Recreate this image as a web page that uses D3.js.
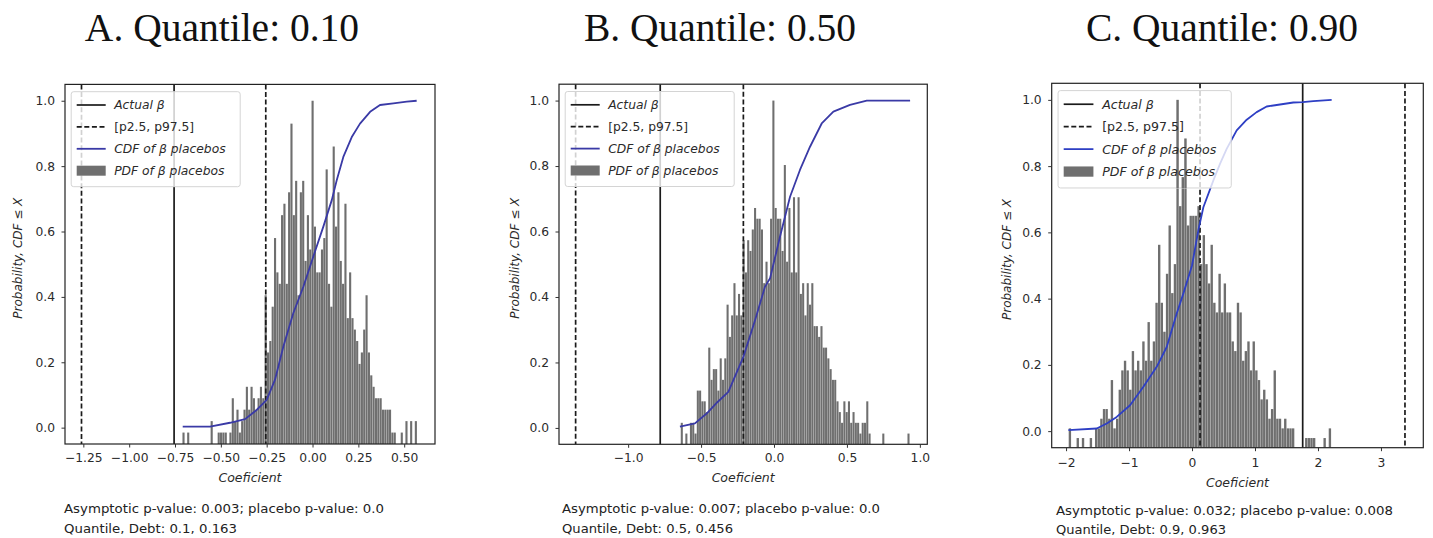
<!DOCTYPE html>
<html>
<head>
<meta charset="utf-8">
<script src="https://cdn.jsdelivr.net/npm/d3@7"></script>
<style>
  body { margin: 0; background: #fff; }
  svg { display: block; }
</style>
</head>
<body>
<svg id="fig" width="1433" height="538"></svg>
<script>
// ---- data ----------------------------------------------------------------
const panelTitles = ["A. Quantile: 0.10", "B. Quantile: 0.50", "C. Quantile: 0.90"];
const pvalueLines = [
  "Asymptotic p-value: 0.003; placebo p-value: 0.0",
  "Asymptotic p-value: 0.007; placebo p-value: 0.0",
  "Asymptotic p-value: 0.032; placebo p-value: 0.008"
];
const debtLines = [
  "Quantile, Debt: 0.1, 0.163",
  "Quantile, Debt: 0.5, 0.456",
  "Quantile, Debt: 0.9, 0.963"
];
const legendLabels = ["Actual β", "[p2.5, p97.5]", "CDF of β placebos", "PDF of β placebos"];
const xAxisLabel = "Coeficient";
const yAxisLabel = "Probability, CDF ≤ X";

// actual coefficient and placebo percentile band
const actualBeta = [-0.755, -0.78, 1.757];
const bandLow    = [-1.26, -1.36, 0.127];
const bandHigh   = [-0.255, -0.21, 3.381];

// tick values
const xTicksA = [-1.25, -1.0, -0.75, -0.5, -0.25, 0, 0.25, 0.5];
const xTicksB = [-1.0, -0.5, 0, 0.5, 1.0];
const xTicksC = [-2, -1, 0, 1, 2, 3];
const yTicks  = [0, 0.2, 0.4, 0.6, 0.8, 1.0];

// placebo histograms: [min, max] of placebo betas, 100 equal bins, counts
const histRangeA = [-0.71, 0.57];
const countsA = [
  1,0,1,0,0,0,0,0,0,0,
  0,0,2,0,0,1,1,1,1,0,
  1,4,2,3,1,2,3,5,3,5,
  4,3,4,5,4,13,8,9,12,18,
  15,14,20,21,14,22,28,20,23,13,
  22,23,16,20,17,30,19,15,15,17,
  18,24,14,12,26,19,22,16,14,21,
  11,15,11,10,9,7,8,10,13,8,
  6,5,4,4,4,3,3,3,3,1,
  1,0,0,1,0,2,0,2,0,2
];
const histRangeB = [-0.64, 0.93];
const countsB = [
  2,0,1,0,2,2,1,5,5,4,
  4,3,9,6,7,7,5,8,6,8,
  13,10,12,15,12,14,12,19,16,19,
  18,20,22,21,21,20,15,17,15,21,
  32,22,21,21,18,26,17,22,16,23,
  16,23,14,15,12,15,13,15,11,11,
  10,11,9,9,8,7,6,6,4,3,
  2,4,3,4,2,3,2,2,1,2,
  2,4,1,0,0,0,0,0,1,0,
  0,0,0,0,0,0,0,0,0,1
];
const histRangeC = [-1.96, 2.21];
const countsC = [
  2,0,0,1,0,1,0,0,1,0,
  2,2,3,4,4,3,7,2,3,6,
  8,9,8,6,10,8,9,8,11,9,
  13,9,11,15,21,15,12,18,23,16,
  19,36,25,28,32,23,24,24,24,25,
  19,22,19,17,21,15,14,18,14,17,
  14,14,11,10,15,14,9,10,11,8,
  11,8,7,5,6,5,3,4,8,3,
  3,2,3,2,2,2,0,0,0,0,
  1,1,1,1,0,0,0,1,0,2
];

// empirical CDF of placebo betas
const cdfXA = [-0.708,-0.559,-0.45,-0.368,-0.305,-0.25,-0.205,-0.159,-0.105,-0.05,0.004,0.059,0.105,0.132,0.168,0.214,0.259,0.314,0.368,0.441,0.514,0.568];
const cdfYA = [0.003,0.003,0.015,0.026,0.054,0.085,0.146,0.248,0.35,0.431,0.523,0.615,0.696,0.757,0.828,0.889,0.93,0.966,0.987,0.992,0.997,1.0];
const cdfXB = [-0.645,-0.542,-0.462,-0.385,-0.313,-0.21,-0.13,-0.062,-0.027,0.041,0.11,0.178,0.247,0.327,0.407,0.521,0.636,0.933];
const cdfYB = [0.004,0.014,0.044,0.08,0.11,0.217,0.329,0.431,0.457,0.584,0.706,0.788,0.859,0.93,0.966,0.987,1.0,1.0];
const cdfXC = [-1.963,-1.513,-1.354,-1.196,-0.984,-0.772,-0.561,-0.402,-0.243,-0.138,0.0,0.1,0.18,0.339,0.444,0.55,0.709,0.868,1.026,1.185,1.397,1.608,1.757,1.926,2.217];
const cdfYC = [0.003,0.008,0.023,0.043,0.078,0.134,0.194,0.254,0.355,0.415,0.5,0.606,0.676,0.757,0.807,0.852,0.908,0.94,0.963,0.98,0.986,0.992,0.993,0.996,1.0];

// ---- layout --------------------------------------------------------------
const panels = [
  { xTicks: xTicksA, fmt: d3.format(".2f"), hist: histRangeA, counts: countsA, cdfX: cdfXA, cdfY: cdfYA,
    box: { left: 65, right: 435, top: 84.4, bottom: 444 }, xlim: [-1.35, 0.668],
    titleX: 222, textX: 64, textY: [508, 528], textW: [320, 173],
    tickY: 462, xLabelY: 482, yLabelX: 18, cdfColor: "#3a3aa6", legendScale: 1.0 },
  { xTicks: xTicksB, fmt: d3.format(".1f"), hist: histRangeB, counts: countsB, cdfX: cdfXB, cdfY: cdfYB,
    box: { left: 559, right: 927.3, top: 84.2, bottom: 444.3 }, xlim: [-1.474, 1.051],
    titleX: 720, textX: 562, textY: [508, 528], textW: [318, 171],
    tickY: 462, xLabelY: 482, yLabelX: 515, cdfColor: "#3a3aa6", legendScale: 1.0 },
  { xTicks: xTicksC, fmt: d3.format("d"), hist: histRangeC, counts: countsC, cdfX: cdfXC, cdfY: cdfYC,
    box: { left: 1051.7, right: 1423.3, top: 83.3, bottom: 447.7 }, xlim: [-2.228, 3.672],
    titleX: 1222, textX: 1056, textY: [510, 529.5], textW: [337, 170],
    tickY: 467, xLabelY: 487, yLabelX: 1007, cdfColor: "#2e3fc4", legendScale: 1.025 }
];

const svg = d3.select("#fig");
const FONT = "'DejaVu Sans', sans-serif";
const YFLOOR = -0.05;
const BAR_FILL = "#6f6f6f";

panels.forEach((p, k) => {
  const b = p.box;
  const x = d3.scaleLinear().domain(p.xlim).range([b.left, b.right]);
  const y = d3.scaleLinear().domain([YFLOOR, 1.05]).range([b.bottom, b.top]);
  const g = svg.append("g");

  const clipId = "clip" + k;
  svg.append("clipPath").attr("id", clipId)
    .append("rect").attr("x", b.left).attr("y", b.top)
    .attr("width", b.right - b.left).attr("height", b.bottom - b.top);

  // histogram bins
  const n = p.counts.length;
  const w = (p.hist[1] - p.hist[0]) / n;
  const maxC = d3.max(p.counts);
  const bins = p.counts.map((c, i) => ({ x0: p.hist[0] + i * w, x1: p.hist[0] + (i + 1) * w, c }))
    .filter(d => d.c > 0);
  const barTop = d => y(YFLOOR + (1.05) * d.c / maxC);
  const drawBars = (sel) => sel.selectAll("rect.bar").data(bins).join("rect")
      .attr("class", "bar")
      .attr("x", d => x(d.x0) + (x(d.x1) - x(d.x0)) * 0.05)
      .attr("width", d => (x(d.x1) - x(d.x0)) * 0.9)
      .attr("y", barTop)
      .attr("height", d => y(YFLOOR) - barTop(d))
      .attr("fill", BAR_FILL);

  const plot = g.append("g").attr("clip-path", `url(#${clipId})`);
  drawBars(plot.append("g"));

  // reference lines
  const vline = (v, dash) => plot.append("line")
    .attr("x1", x(v)).attr("x2", x(v)).attr("y1", b.top).attr("y2", b.bottom)
    .attr("stroke", "#1a1a1a").attr("stroke-width", 1.7)
    .attr("stroke-dasharray", dash ? "5,2.6" : null);
  vline(actualBeta[k], false);
  vline(bandLow[k], true);
  vline(bandHigh[k], true);

  // CDF
  const cdf = p.cdfX.map((v, i) => [v, p.cdfY[i]]);
  plot.append("path").datum(cdf)
    .attr("d", d3.line().x(d => x(d[0])).y(d => y(d[1])))
    .attr("fill", "none").attr("stroke", p.cdfColor).attr("stroke-width", 1.8)
    .attr("stroke-linejoin", "round");

  // legend
  const s = p.legendScale;
  const lx = b.left + 6.2 * s, ly = b.top + 7.3;
  const lw = 169 * s, lh = 95 * s;
  const lg = g.append("g");
  lg.append("rect").attr("x", lx).attr("y", ly).attr("width", lw).attr("height", lh)
    .attr("rx", 2.5).attr("fill", "#fff").attr("fill-opacity", 0.8)
    .attr("stroke", "#d4d4d4").attr("stroke-width", 1);
  // bars stay visible on top of the legend frame
  const lclip = "lclip" + k;
  svg.append("clipPath").attr("id", lclip)
    .append("rect").attr("x", lx).attr("y", ly).attr("width", lw).attr("height", lh);
  drawBars(lg.append("g").attr("clip-path", `url(#${lclip})`));

  const rowY = i => ly + (13.3 + i * 21.9) * s;
  const hx0 = lx + 5.5 * s, hx1 = lx + 34.5 * s, tx = lx + 43 * s;
  lg.append("line").attr("x1", hx0).attr("x2", hx1).attr("y1", rowY(0)).attr("y2", rowY(0))
    .attr("stroke", "#1a1a1a").attr("stroke-width", 1.7);
  lg.append("line").attr("x1", hx0).attr("x2", hx1).attr("y1", rowY(1)).attr("y2", rowY(1))
    .attr("stroke", "#1a1a1a").attr("stroke-width", 1.7).attr("stroke-dasharray", "5,2.6");
  lg.append("line").attr("x1", hx0).attr("x2", hx1).attr("y1", rowY(2)).attr("y2", rowY(2))
    .attr("stroke", p.cdfColor).attr("stroke-width", 1.8);
  lg.append("rect").attr("x", hx0).attr("y", rowY(3) - 5 * s).attr("width", hx1 - hx0).attr("height", 10 * s)
    .attr("fill", BAR_FILL);
  legendLabels.forEach((t, i) => {
    lg.append("text").attr("x", tx).attr("y", rowY(i)).attr("dy", "0.36em")
      .attr("font-family", FONT).attr("font-size", 12.3 * s)
      .attr("font-style", i === 1 ? "normal" : "italic")
      .attr("fill", "#2a2a2a").text(t);
  });

  // frame
  g.append("rect").attr("x", b.left).attr("y", b.top)
    .attr("width", b.right - b.left).attr("height", b.bottom - b.top)
    .attr("fill", "none").attr("stroke", "#222").attr("stroke-width", 1.2);

  // axes
  const xa = g.append("g").attr("transform", `translate(0,${b.bottom})`)
    .call(d3.axisBottom(x).tickValues(p.xTicks).tickFormat(p.fmt).tickSize(3.5).tickPadding(p.tickY - b.bottom - 3.5 - 8.6));
  const ya = g.append("g").attr("transform", `translate(${b.left},0)`)
    .call(d3.axisLeft(y).tickValues(yTicks).tickFormat(d3.format(".1f")).tickSize(3.5).tickPadding(6.5));
  [xa, ya].forEach(a => {
    a.select(".domain").remove();
    a.selectAll("line").attr("stroke", "#333");
    a.selectAll("text").attr("font-family", FONT).attr("font-size", 12.3).attr("fill", "#2a2a2a");
  });

  g.append("text").attr("x", (b.left + b.right) / 2).attr("y", p.xLabelY)
    .attr("text-anchor", "middle").attr("font-family", FONT).attr("font-size", 12.5)
    .attr("font-style", "italic").attr("fill", "#2a2a2a").text(xAxisLabel);
  g.append("text").attr("transform", `translate(${p.yLabelX},${(b.top + b.bottom) / 2 - 6}) rotate(-90)`)
    .attr("text-anchor", "middle").attr("dy", "0.36em").attr("font-family", FONT).attr("font-size", 12)
    .attr("font-style", "italic").attr("fill", "#2a2a2a").text(yAxisLabel);

  // title
  g.append("text").attr("x", p.titleX).attr("y", 41).attr("text-anchor", "middle")
    .attr("font-family", "'Liberation Serif', 'Times New Roman', serif").attr("font-size", 39.5)
    .attr("fill", "#111").text(panelTitles[k]);

  // notes under the panel
  [pvalueLines[k], debtLines[k]].forEach((t, i) => {
    g.append("text").attr("x", p.textX).attr("y", p.textY[i]).attr("dy", "0.36em")
      .attr("font-family", FONT).attr("font-size", 12.5).attr("fill", "#222")
      .attr("textLength", p.textW[i]).attr("lengthAdjust", "spacingAndGlyphs")
      .text(t);
  });
});
</script>
</body>
</html>
